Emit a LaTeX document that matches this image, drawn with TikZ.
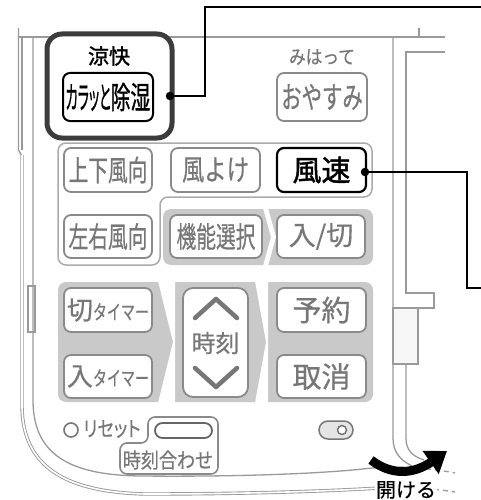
\documentclass[tikz,border=0pt]{standalone}
\usepackage{fontspec}
\usepackage{graphicx}
\newfontfamily\cjk[FakeBold=0.6]{Noto Sans CJK JP}
\newfontfamily\cjkp[RawFeature=+palt, FakeBold=0.6]{Noto Sans CJK JP}
\newfontfamily\cjkpb[RawFeature=+palt, FakeBold=1.3]{Noto Sans CJK JP}
\newfontfamily\cjkb[FakeBold=1.6]{Noto Sans CJK JP}
\usetikzlibrary{arrows.meta}
\definecolor{lg}{HTML}{9A9A9A}
\definecolor{pg}{HTML}{ABABAB}
\definecolor{bg}{HTML}{8A8A8A}
\definecolor{tg}{HTML}{777777}
\definecolor{band}{HTML}{C9C9C9}
\definecolor{dk}{HTML}{3C3C3C}
\newcommand{\jt}[3]{\scalebox{#1}[1]{\fontsize{#2}{#2}\selectfont\cjk #3}}
\newcommand{\jp}[3]{\scalebox{#1}[1]{\fontsize{#2}{#2}\selectfont\cjkp #3}}
\newcommand{\jpb}[3]{\scalebox{#1}[1]{\fontsize{#2}{#2}\selectfont\cjkpb #3}}
\newcommand{\jb}[3]{\scalebox{#1}[1]{\fontsize{#2}{#2}\selectfont\cjkb #3}}
\begin{document}
\begin{tikzpicture}[x=1pt,y=-1pt,
  btn/.style={draw=bg, line width=1.8pt, rounded corners=7pt, fill=white, inner sep=0pt, text=tg, minimum width=88pt, minimum height=44pt},
  bbtn/.style={btn, draw=black, line width=2.2pt, text=black},
  shell/.style={draw=lg, line width=1.3pt},
  dbl/.style={draw=lg, line width=0.9pt, double=white, double distance=1.6pt},
  dsh/.style={draw=lg, line width=1.3pt, dash pattern=on 5pt off 4pt},
  call/.style={draw=black, line width=2pt},
  dot/.style={circle, fill=black, inner sep=0pt, minimum size=8.5pt},
  lbl/.style={inner sep=0pt}]
\useasboundingbox (0,0) rectangle (481,500);
\fill[white] (0,0) rectangle (481,500);
% ---- shell lines ----
\draw[shell] (18.5,28) -- (18.5,150) -- (22,156);
\draw[shell] (22,37) -- (22,150);
\draw[shell] (18.5,37) -- (445,37);
\draw[shell] (419,28) -- (419,37);
\draw[dbl] (22,155) -- (22,405) .. controls (22,470) and (70,492) .. (145,494) .. controls (250,494) and (330,491) .. (380,488);
\draw[dsh] (380,488) .. controls (410,487) and (430,488) .. (455,492);
\draw[shell] (33,37) -- (33,400) .. controls (33,455) and (70,475) .. (140,476) .. controls (250,477) and (330,473) .. (372,468);
\draw[dsh] (372,468) .. controls (400,466) and (430,468) .. (455,473);
\draw[shell] (393,37) -- (393,438) .. controls (393,452) and (400,460) .. (412,466);
\draw[shell] (445,52) -- (406,52) -- (406,293) -- (434,293) -- (434,308) -- (418,308);
\draw[shell, fill=white!97!black] (393,308) rectangle (418,364);
\draw[shell] (406,364) -- (406,438) .. controls (406,450) and (412,456) .. (424,460);
\draw[shell] (28,286) rectangle (35,332);
% ---- bands ----
\fill[band, rounded corners=8pt] (163,209) rectangle (373,265);
\fill[white] (263,208) -- (268,208) -- (276,237) -- (268,266) -- (263,266) -- (271,237) -- cycle;
\fill[band, rounded corners=8pt] (58,282) rectangle (373,402);
\fill[white] (158,281) -- (175,281) -- (175,403) -- (158,403) -- (173,342) -- cycle;
\fill[white] (255,281) -- (268,281) -- (268,403) -- (255,403) -- (266,342) -- cycle;
% ---- panel outline ----
\draw[pg, line width=1.5pt, rounded corners=8pt] (58,143) -- (372,143) -- (372,197) -- (160,197) -- (160,265) -- (58,265) -- cycle;
% ---- top group ----
\draw[dk, line width=5pt, rounded corners=15pt, fill=white] (47,34) rectangle (172,138);
\node[lbl] (ryo) at (109,56) {\jb{1}{21}{涼快}};
\node[bbtn, minimum width=90pt, minimum height=48pt, line width=2pt] (kara) at (108,97) {\jpb{0.42}{31}{カラッと}\jpb{0.64}{31}{除湿}};
\node[lbl, text=tg] (mi) at (322,57) {\jt{0.88}{19}{みはって}};
\node[btn, minimum width=90pt, minimum height=48pt] (oya) at (322,97) {\jt{0.68}{30}{おやすみ}};
% ---- panel buttons ----
\node[btn] (joge) at (108,170) {\jt{0.68}{29}{上下風向}};
\node[btn, minimum width=89pt] (kaze) at (215.5,170) {\jt{0.77}{29}{風よけ}};
\node[bbtn, minimum width=89pt] (fuso) at (321.5,170) {\jb{1}{29}{風速}};
\node[btn, minimum height=43pt] (sayu) at (108,236.5) {\jt{0.68}{29}{左右風向}};
\node[btn, minimum width=92pt, minimum height=43pt] (kino) at (216,236.5) {\jt{0.68}{29}{機能選択}};
\node[btn, minimum height=43pt] (iri) at (321,236.5) {\jt{1}{27}{入/切}};
% ---- timer buttons ----
\node[btn] (kiri) at (108,310) {\jt{1}{26}{切}\jt{0.7}{20}{タイマー}};
\node[btn, minimum height=43pt] (iriT) at (108,376.5) {\jt{1}{26}{入}\jt{0.7}{20}{タイマー}};
\node[btn, minimum width=65pt, minimum height=109pt, rounded corners=10pt] (jik) at (215.5,342.5) {};
\node[lbl, text=tg] (jikt) at (215.5,343) {\jt{1}{24}{時刻}};
\draw[tg, line width=4.5pt, line cap=round, line join=round] (195,318) -- (216,299) -- (237,318);
\draw[tg, line width=4.5pt, line cap=round, line join=round] (195,368) -- (216,387) -- (237,368);
\node[btn, minimum width=89pt] (yoy) at (321.5,310) {\jt{1}{29}{予約}};
\node[btn, minimum width=89pt, minimum height=43pt] (tor) at (321.5,376.5) {\jt{1}{29}{取消}};
% ---- bottom controls ----
\draw[tg, line width=1.6pt] (71,430) circle (7);
\node[lbl, text=tg] (rst) at (112,429) {\jp{0.82}{21}{リセット}};
\draw[bg, line width=1.6pt, rounded corners=7pt] (148,417) -- (218,417) -- (218,474) -- (120,474) -- (120,443) -- (148,443) -- cycle;
\draw[draw=black!60, line width=1.8pt, fill=white, rounded corners=7.5pt] (155,423) rectangle (212,438);
\node[lbl, text=tg] (jgo) at (168,460) {\jt{0.86}{21}{時刻合わせ}};
\draw[draw=tg, line width=1.5pt, fill=black!10, rounded corners=9pt] (319,421) rectangle (353,439);
\draw[draw=tg, line width=1.5pt, fill=white] (342,430) circle (4.5);
% ---- open arrow ----
\draw[black, line width=9pt, -{Triangle[length=20pt,width=27pt]}] (371,460) .. controls (392,476) and (414,474) .. (447,451);
\node[lbl, fill=white, inner sep=1pt] (ake) at (406,490) {\jt{1}{20}{開ける}};
% ---- callouts ----
\node[dot] (d1) at (170,96) {};
\node[dot] (d2) at (365,172) {};
\coordinate (c1a) at (205,96);
\coordinate (c1b) at (205,7);
\coordinate (c1e) at (481,7);
\coordinate (c2a) at (467,172);
\coordinate (c2b) at (467,288);
\coordinate (c2e) at (481,288);
\draw[call] (d1.center) -- (c1a) -- (c1b) -- (c1e);
\draw[call] (d2.center) -- (c2a) -- (c2b) -- (c2e);
\end{tikzpicture}
\end{document}
